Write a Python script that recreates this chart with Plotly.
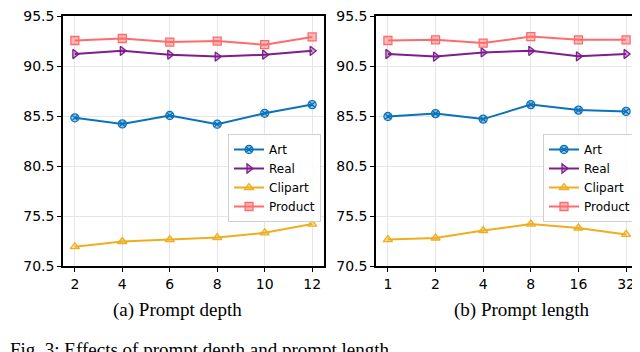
import plotly.graph_objects as go

# Data
depth_x = [2, 4, 6, 8, 10, 12]
depth_art = [85.32, 84.71, 85.55, 84.68, 85.77, 86.64]
depth_real = [91.70, 92.02, 91.63, 91.44, 91.63, 92.02]
depth_clipart = [72.43, 72.95, 73.14, 73.34, 73.82, 74.69]
depth_product = [93.05, 93.25, 92.89, 92.99, 92.63, 93.41]

length_x = ['1', '2', '4', '8', '16', '32']
length_art = [85.45, 85.74, 85.19, 86.64, 86.09, 85.96]
length_real = [91.70, 91.44, 91.86, 92.02, 91.47, 91.70]
length_clipart = [73.14, 73.30, 74.04, 74.69, 74.30, 73.66]
length_product = [93.05, 93.12, 92.79, 93.44, 93.12, 93.12]

y_ticks = [70.5, 75.5, 80.5, 85.5, 90.5, 95.5]

# series style: name, colour, fill, symbol
stili = [
    ('Art', '#0A72BA', 'rgba(10,114,186,0.35)', 'circle-x'),
    ('Real', '#7E1E8C', 'rgba(126,30,140,0.35)', 'triangle-right'),
    ('Clipart', '#EFAE1E', 'rgba(239,174,30,0.35)', 'triangle-up'),
    ('Product', '#FF6B6B', 'rgba(255,107,107,0.45)', 'square'),
]

# page has an 8px body margin, so the figure is a bit smaller and positions are shifted
W, H, OFF = 632, 344, 8

def px(x):
    return (x - OFF) / W

def py(y):
    return 1 - (y - OFF) / H

fig = go.Figure()

def pievienot(x, sērijas, xa, ya, leg):
    for (nos, kr, fill, simb), y in zip(stili, sērijas):
        fig.add_trace(go.Scatter(
            x=x, y=y, name=nos, mode='lines+markers',
            xaxis=xa, yaxis=ya, legend=leg,
            line=dict(color=kr, width=2),
            marker=dict(symbol=simb, size=8, color=fill,
                        line=dict(color=kr, width=1.3)),
        ))

pievienot(depth_x, [depth_art, depth_real, depth_clipart, depth_product], 'x', 'y', 'legend')
pievienot(length_x, [length_art, length_real, length_clipart, length_product], 'x2', 'y2', 'legend2')

ax_common = dict(showline=True, mirror=True, linecolor='black', linewidth=1.5,
                 ticks='outside', ticklen=4, tickcolor='black', automargin=False,
                 ticklabeloverflow='allow',
                 showgrid=True, gridcolor='#e6e6e6', gridwidth=1, zeroline=False,
                 tickfont=dict(family='DejaVu Sans', size=14, color='black'))

y_dom = [py(266), py(16)]
y_rng = [70.5, 95.5 + 1e-6]
y_txt = [f'{v:.1f}' for v in y_ticks]

leg_common = dict(xanchor='left', yanchor='top',
                  bgcolor='rgba(255,255,255,0.85)', bordercolor='#d0d0d0', borderwidth=1,
                  font=dict(family='DejaVu Sans', size=12, color='black'),
                  itemwidth=30, tracegroupgap=0)

fig.update_layout(
    width=W, height=H,
    margin=dict(l=0, r=0, t=0, b=0),
    plot_bgcolor='white', paper_bgcolor='white',
    xaxis=dict(domain=[px(63), px(324)], range=[1.5, 12.5], tickvals=depth_x, anchor='y', **ax_common),
    yaxis=dict(domain=y_dom, range=y_rng, tickvals=y_ticks, ticktext=y_txt, anchor='x', **ax_common),
    xaxis2=dict(domain=[px(376), px(638)], type='category', range=[-0.25, 5.25], anchor='y2', **ax_common),
    yaxis2=dict(domain=y_dom, range=y_rng, tickvals=y_ticks, ticktext=y_txt, anchor='x2', **ax_common),
    legend=dict(x=px(228), y=py(134), **leg_common),
    legend2=dict(x=px(543), y=py(134), **leg_common),
    showlegend=True,
)

# captions
teksti = [
    ('(a) Prompt depth', px(177), py(310)),
    ('(b) Prompt length', px(522), py(310)),
]
for t, x, y in teksti:
    fig.add_annotation(text=t, x=x, y=y, xref='paper', yref='paper', showarrow=False,
                       xanchor='center', yanchor='middle',
                       font=dict(family='Liberation Serif', size=19, color='black'))

fig.add_annotation(text='Fig. 3: Effects of prompt depth and prompt length', x=0, y=py(337),
                   xref='paper', yref='paper', showarrow=False, xanchor='left', yanchor='top',
                   font=dict(family='Liberation Serif', size=19, color='black'))

fig.write_html("out.html")
